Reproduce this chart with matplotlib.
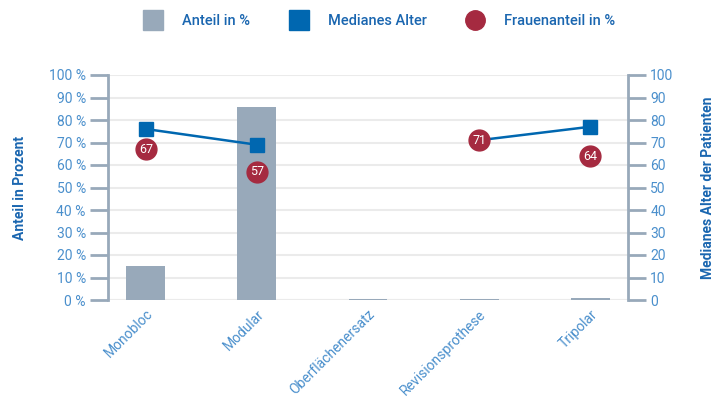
import numpy as np
import matplotlib
matplotlib.use("Agg")
import matplotlib.pyplot as plt
from matplotlib.lines import Line2D

plt.rcParams['font.family'] = ['Roboto', 'DejaVu Sans']

# data
categories = ['Monobloc', 'Modular', 'Oberflächenersatz', 'Revisionsprothese', 'Tripolar']
anteil = [15, 86, 0.5, 0.5, 1]
median_alter = [76, 69, np.nan, 71, 77]
frauenanteil = [67, 57, np.nan, 71, 64]
left_ticks = [f'{v} %' for v in range(0, 101, 10)]
right_ticks = [str(v) for v in range(0, 101, 10)]

# colours
bar_col = '#98a9ba'
line_col = '#0067b0'
circ_col = '#a52a40'
tick_txt = '#4a8fcc'
label_txt = '#1a66b0'
grid_col = '#ebebeb'

fig = plt.figure(figsize=(7.15, 4), dpi=100)
ax = fig.add_axes([108/715, 0.25, (628-108)/715, 225/400])
ax2 = ax.twinx()

x = np.arange(len(categories))
ax.bar(x, anteil, width=0.35, color=bar_col, zorder=2)
ax.set_xlim(-0.34, 4.34)
ax.set_ylim(0, 100)
ax.set_yticks(range(0, 101, 10))
ax.set_yticklabels(left_ticks)
ax.yaxis.grid(True, color=grid_col, lw=1.5, zorder=0)
ax.set_axisbelow(True)

ax2.set_ylim(0, 100)
ax2.set_yticks(range(0, 101, 10))
ax2.set_yticklabels(right_ticks)
ax2.plot(x, median_alter, color=line_col, lw=1.8, marker='s', ms=10, zorder=3)
ax2.plot(x, frauenanteil, ls='none', marker='o', ms=15, color=circ_col, zorder=4)
for xi, v in zip(x, frauenanteil):
    if not np.isnan(v):
        ax2.text(xi, v, f'{v:.0f}', ha='center', va='center', color='white',
                 fontsize=9, zorder=5)

for a in (ax, ax2):
    for s in ('top', 'bottom'):
        a.spines[s].set_visible(False)
ax.spines['right'].set_visible(False)
ax2.spines['left'].set_visible(False)
ax.spines['left'].set_color(bar_col)
ax.spines['left'].set_linewidth(2)
ax2.spines['right'].set_color(bar_col)
ax2.spines['right'].set_linewidth(2)

ax.tick_params(axis='y', length=13, width=2, color=bar_col, labelcolor=tick_txt, labelsize=10, pad=3)
ax2.tick_params(axis='y', length=13, width=2, color=bar_col, labelcolor=tick_txt, labelsize=10, pad=3)
ax.set_xticks(x)
ax.set_xticklabels(categories, rotation=45, ha='right', rotation_mode='anchor',
                   color=tick_txt, fontsize=10)
ax.tick_params(axis='x', length=0, pad=5)
ax.axhline(0, color=grid_col, lw=1.5, zorder=1)

ax.set_ylabel('Anteil in Prozent', color=label_txt, fontsize=10, fontweight='bold', labelpad=16)
ax2.set_ylabel('Medianes Alter der Patienten', color=label_txt, fontsize=10, fontweight='bold', labelpad=20)

handles = [
    Line2D([], [], ls='none', marker='s', ms=14, color=bar_col),
    Line2D([], [], ls='none', marker='s', ms=14, color=line_col),
    Line2D([], [], ls='none', marker='o', ms=14, color=circ_col),
]
leg = fig.legend(handles, ['Anteil in %', 'Medianes Alter', 'Frauenanteil in %'],
                 loc='center', bbox_to_anchor=(0.527, 0.947), ncol=3, frameon=False,
                 fontsize=10.5, handletextpad=1.0, columnspacing=2.3)
for t in leg.get_texts():
    t.set_color(label_txt)
    t.set_fontweight('medium')

fig.savefig('out.png', dpi=100)
